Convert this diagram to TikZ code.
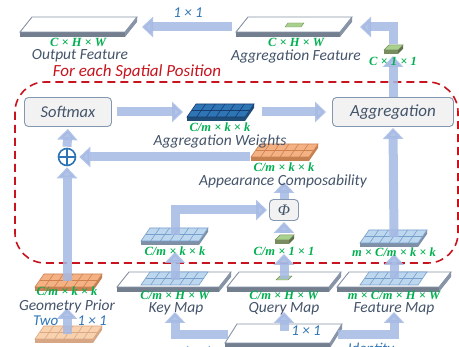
\documentclass[tikz,border=0pt]{standalone}
\usepackage{fontspec}
\setmainfont{Carlito}
\newfontfamily\dimfont{Liberation Serif}
\usetikzlibrary{arrows.meta}

\definecolor{flowc}{RGB}{165,185,228}
\definecolor{dimgreen}{RGB}{0,176,80}
\definecolor{namegrey}{RGB}{68,84,106}
\definecolor{opblue}{RGB}{46,117,182}
\definecolor{spatred}{RGB}{200,20,30}
\definecolor{boxedge}{RGB}{132,151,176}
\definecolor{boxfill}{RGB}{242,242,242}
\definecolor{slabgrey}{RGB}{135,148,168}
\definecolor{wtstop}{RGB}{46,117,182}
\definecolor{wtsside}{RGB}{31,78,121}
\definecolor{wtsline}{RGB}{25,60,110}
\definecolor{apctop}{RGB}{244,177,131}
\definecolor{apcside}{RGB}{196,128,80}
\definecolor{apcline}{RGB}{205,130,80}
\definecolor{pritop}{RGB}{248,210,175}
\definecolor{keytop}{RGB}{189,215,238}
\definecolor{keyside}{RGB}{127,143,166}
\definecolor{keyline}{RGB}{120,160,205}
\definecolor{cubetop}{RGB}{169,209,142}
\definecolor{cubeside}{RGB}{120,140,95}

% big white feature map, #1 depth, #2 x, #3 y, #4 width
\newcommand{\slab}[4][15]{%
  \fill[slabgrey] (#2+#4,#3) -- ++(12,-#1) -- ++(0,5) -- ++(-12,#1) -- cycle;
  \fill[slabgrey!85!black] (#2,#3) rectangle ++(#4,5);
  \draw[slabgrey, fill=white, line width=0.9pt] (#2,#3) -- ++(#4,0) -- ++(12,-#1) -- ++(-#4,0) -- cycle;
}
% flat k x k grid, #1 x, #2 y, #3 width, #4 fill, #5 lines
\newcommand{\gridtop}[5]{%
  \draw[#5, fill=#4, line width=0.6pt] (#1,#2) -- ++(#3,0) -- ++(9,-13) -- ++(-#3,0) -- cycle;
  \foreach \i in {1,...,5} \draw[#5, line width=0.6pt] (#1+\i*#3/6,#2) -- ++(9,-13);
  \draw[#5, line width=0.6pt] (#1+4.5,#2-6.5) -- ++(#3,0);
}
% k x k block with side, #6 side colour
\newcommand{\gridslab}[6]{%
  \fill[#6] (#1+#3,#2) -- ++(9,-13) -- ++(0,4) -- ++(-9,13) -- cycle;
  \fill[#6] (#1,#2) rectangle ++(#3,4);
  \gridtop{#1}{#2}{#3}{#4}{#5}
}
% small 1 x 1 vector
\newcommand{\cube}[2]{%
  \fill[cubeside] (#1,#2) rectangle ++(14,4);
  \fill[cubeside!80!black] (#1+14,#2) -- ++(5,-5) -- ++(0,4) -- ++(-5,5) -- cycle;
  \draw[cubeside, fill=cubetop, line width=0.5pt] (#1,#2) -- ++(14,0) -- ++(5,-5) -- ++(-14,0) -- cycle;
}

\begin{document}
\begin{tikzpicture}[x=1pt, y=-1pt,
flow/.style={draw=flowc, line width=9pt, opacity=0.85, -{Triangle[width=20pt,length=11pt]}},
dimlbl/.style={text=dimgreen, font=\dimfont\bfseries\itshape\fontsize{12.5}{12.5}\selectfont, inner sep=0pt},
namelbl/.style={text=namegrey, font=\itshape\fontsize{15.5}{16}\selectfont, inner sep=0pt},
oplbl/.style={text=opblue, font=\itshape\fontsize{15}{15}\selectfont, inner sep=0pt},
opbox/.style={draw=boxedge, fill=boxfill, rounded corners=4pt, line width=0.9pt, text=namegrey, inner sep=0pt},
region/.style={draw=spatred, line width=1.6pt, dash pattern=on 8pt off 5pt, rounded corners=30pt}]

\useasboundingbox (0,0) rectangle (459,347);
\clip (0,0) rectangle (459,347);
\fill[white] (0,0) rectangle (459,347);

% spatial region
\draw[region] (15,82) rectangle (458,263);
\node[text=spatred, font=\itshape\fontsize{17}{17}\selectfont, inner sep=0pt] (spatlbl) at (137,72) {For each Spatial Position};

% maps and blocks
\slab{20}{32}{105}
\slab{236}{32}{104}
\draw[cubeside, fill=cubetop, line width=0.4pt] (285,27) -- (301,27) -- (304,23) -- (288,23) -- cycle;
\cube{384}{50}
\gridslab{187}{117}{58}{wtstop}{wtsline}{wtsside}
\gridslab{251}{157}{58}{apctop}{apcline}{apcside}
\gridslab{141}{241}{58}{keytop}{keyline}{keyside}
\cube{275}{240}
\gridslab{360}{243}{58}{keytop}{keyline}{keyside}
\gridslab{35}{287}{58}{apctop}{apcline}{apcside}
\gridslab{35}{339}{58}{pritop}{apcline!70}{apcside!70}
\slab{117}{287}{102}
\slab{227}{287}{102}
\slab{337}{287}{102}
\gridtop{141}{285}{58}{keytop}{keyline}
\gridtop{360}{285}{58}{keytop}{keyline}
\draw[cubeside, fill=cubetop, line width=0.4pt] (276,280) -- (288,280) -- (292,276) -- (280,276) -- cycle;
\slab[19]{225}{343}{105}

\coordinate (outf) at (78,27);
\coordinate (aggf) at (296,27);
\coordinate (cvec) at (393,47);
\coordinate (wts) at (221,112);
\coordinate (apc) at (284,157);
\coordinate (keyk) at (175,235);
\coordinate (qvec) at (284,237);
\coordinate (feak) at (394,237);
\coordinate (geo) at (67,281);
\coordinate (geo2) at (67,334);
\coordinate (keym) at (175,280);
\coordinate (qm) at (284,279);
\coordinate (feam) at (394,279);
\coordinate (inp) at (284,335);

% operators
\node[opbox, minimum width=87pt, minimum height=29pt, font=\itshape\fontsize{16.5}{17}\selectfont] (softmax) at (68,112) {Softmax};
\node[opbox, minimum width=121pt, minimum height=29pt, font=\itshape\fontsize{17}{17}\selectfont] (agg) at (393,112) {Aggregation};
\node[opbox, minimum width=29pt, minimum height=21pt, font=\dimfont\itshape\fontsize{16}{16}\selectfont] (phi) at (284,210) {Φ};
\node[circle, draw=opblue, line width=1.6pt, minimum size=17pt, inner sep=0pt] (oplus) at (67,157) {};
\draw[opblue, line width=1.6pt] (oplus.north) -- (oplus.south) (oplus.west) -- (oplus.east);

% connections
\draw[flow, shorten <=64pt, shorten >=64pt] (aggf) -- (outf);
\draw[flow, shorten <=3pt, shorten >=64pt] (cvec) |- (aggf);
\draw[flow, shorten >=9pt] (agg) -- (cvec);
\draw[flow, shorten <=5pt, shorten >=38pt] (softmax.east) -- (wts);
\draw[flow, shorten <=41pt, shorten >=6pt] (wts) -- (agg.west);
\draw[flow, shorten <=34pt, shorten >=3pt] (apc) -- (oplus.east);
\draw[flow, shorten <=1pt, shorten >=2pt] (oplus.north) -- (softmax.south);
\draw[flow, shorten >=25pt] (phi.north) -- (apc);
\draw[flow, shorten >=2pt] (keyk) |- (phi.west);
\draw[flow, shorten <=4pt, shorten >=1pt] (qvec) -- (phi.south);
\draw[flow, shorten >=1pt] (feak) -- (agg.south);
\draw[flow, shorten >=17pt] (keym) -- (keyk);
\draw[flow, shorten >=17pt] (qm) -- (qvec);
\draw[flow, shorten >=17pt] (feam) -- (feak);
\draw[flow, shorten >=1pt] (geo) -- (oplus.south);
\draw[flow, shorten >=27pt] (geo2) -- (geo);
\draw[flow, shorten <=56pt, shorten >=32pt] (inp) -| (keym);
\draw[flow, shorten <=4pt, shorten >=33pt] (inp) -- (qm);
\draw[flow, shorten <=54pt, shorten >=33pt] (inp) -| (feam);

% labels
\node[dimlbl] (outdim) at (78,42) {C × H × W};
\node[namelbl] (outname) at (80,56) {Output Feature};
\node[oplbl] (oneA) at (188,13) {1 × 1};
\node[dimlbl] (aggdim) at (296,42) {C × H × W};
\node[namelbl] (aggname) at (296,56) {Aggregation Feature};
\node[dimlbl] (cvecdim) at (393,61) {C × 1 × 1};
\node[dimlbl] (wtsdim) at (220,127) {C/m × k × k};
\node[namelbl] (wtsname) at (220,141.5) {Aggregation Weights};
\node[dimlbl] (apcdim) at (284,167) {C/m × k × k};
\node[namelbl] (apcname) at (283,181) {Appearance Composability};
\node[dimlbl] (keykdim) at (175,251) {C/m × k × k};
\node[dimlbl] (qvecdim) at (284,251) {C/m × 1 × 1};
\node[dimlbl] (feakdim) at (394,252) {m × C/m × k × k};
\node[dimlbl] (geodim) at (67,291.5) {C/m × k × k};
\node[namelbl] (geoname) at (67,306) {Geometry Prior};
\node[oplbl] (twolbl) at (70,321) {Two\hspace{19pt}1 × 1};
\node[dimlbl] (geo2dim) at (67,352) {2 × k × k};
\node[dimlbl] (keydim) at (175,295) {C/m × H × W};
\node[namelbl] (keyname) at (176,309) {Key Map};
\node[dimlbl] (qdim) at (284,295) {C/m × H × W};
\node[namelbl] (qname) at (284,309) {Query Map};
\node[dimlbl] (fdim) at (394,295) {m × C/m × H × W};
\node[namelbl] (fname) at (394,309) {Feature Map};
\node[oplbl] (oneB) at (306,331) {1 × 1};
\node[oplbl] (oneC) at (197,352) {1 × 1};
\node[oplbl] (identlbl) at (371,350) {Identity};
\node[dimlbl] (inpdim) at (284,353) {C × H × W};
\end{tikzpicture}
\end{document}
